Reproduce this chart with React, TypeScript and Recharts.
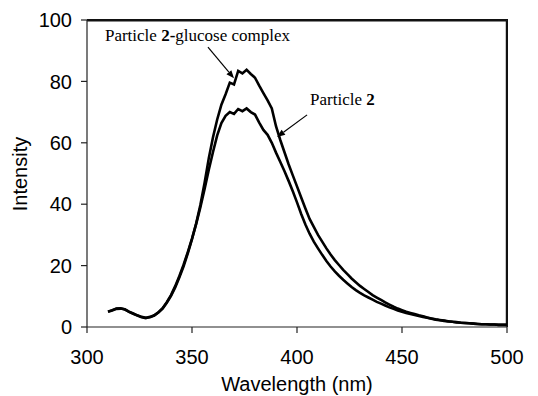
import React from "react";
import { LineChart, Line, XAxis, YAxis, ReferenceLine, Label } from "recharts";

// wavelength grid (nm)
const wavelengths = [
  310, 312, 314, 316, 318, 320, 322, 324, 326, 328,
  330, 332, 334, 336, 338, 340, 342, 344, 346, 348,
  350, 352, 354, 356, 358, 360, 362, 364, 366, 368,
  370, 372, 374, 376, 378, 380, 382, 384, 386, 388,
  390, 392, 394, 396, 398, 400, 402, 404, 406, 408,
  410, 412, 414, 416, 418, 420, 422, 424, 426, 428,
  430, 432, 434, 436, 438, 440, 442, 444, 446, 448,
  450, 452, 454, 456, 458, 460, 462, 464, 466, 468,
  470, 472, 474, 476, 478, 480, 482, 484, 486, 488,
  490, 492, 494, 496, 498, 500,
];

// Particle 2-glucose complex
const glucose = [
  5.0, 5.5, 6.0, 6.1, 5.7, 5.0, 4.4, 3.8, 3.3, 3.0,
  3.2, 3.7, 4.7, 6.0, 7.9, 10.1, 12.9, 16.2, 19.8, 24.0,
  28.6, 33.8, 39.8, 47.0, 55.0, 61.8, 67.6, 72.4, 75.8, 79.6,
  79.0, 83.4, 82.6, 83.8, 82.4, 81.2, 78.6, 76.2, 73.8, 71.2,
  65.4, 61.0, 57.0, 53.0, 49.4, 45.8, 42.2, 38.6, 35.2, 32.6,
  30.0, 27.8, 25.6, 23.6, 21.8, 20.2, 18.6, 17.2, 15.8, 14.6,
  13.4, 12.4, 11.4, 10.4, 9.6, 8.8, 8.0, 7.3, 6.6, 6.0,
  5.5, 5.0, 4.6, 4.2, 3.8, 3.5, 3.1, 2.8, 2.5, 2.3,
  2.1, 1.9, 1.7, 1.6, 1.4, 1.3, 1.2, 1.1, 1.0, 0.9,
  0.9, 0.8, 0.8, 0.7, 0.7, 0.7,
];

// Particle 2
const particle = [
  5.0, 5.4, 5.9, 6.0, 5.8, 4.9, 4.3, 3.7, 3.2, 2.9,
  3.3, 3.8, 4.8, 6.1, 8.1, 10.4, 13.3, 16.6, 20.3, 24.4,
  28.8, 33.6, 39.0, 45.0, 51.2, 57.0, 62.4, 66.4, 68.8, 70.0,
  69.4, 71.0, 70.3, 71.2, 70.0, 69.2, 66.6, 64.2, 62.6, 60.0,
  56.8, 53.8, 50.8, 47.6, 44.2, 40.6, 36.8, 33.4, 30.4, 27.8,
  25.6, 23.5, 21.5, 19.7, 18.1, 16.7, 15.4, 14.2, 13.0, 12.0,
  11.1, 10.3, 9.6, 8.9, 8.2, 7.6, 7.0, 6.4, 5.9, 5.4,
  5.0, 4.6, 4.2, 3.9, 3.6, 3.3, 3.0, 2.7, 2.4, 2.2,
  2.0, 1.8, 1.7, 1.5, 1.4, 1.3, 1.2, 1.1, 1.0, 0.9,
  0.9, 0.8, 0.8, 0.7, 0.7, 0.7,
];

const xTicks = [300, 350, 400, 450, 500];
const yTicks = [0, 20, 40, 60, 80, 100];

const data = wavelengths.map((w, i) => ({ w, glucose: glucose[i], particle: particle[i] }));

const WIDTH = 538;
const HEIGHT = 396;
const margin = { top: 20, right: 31, left: 0, bottom: 0 };
const Y_AXIS_W = 87;
const X_AXIS_H = 69;

const sans = "'Liberation Sans', Arial, sans-serif";
const serif = "'Liberation Serif', 'Times New Roman', serif";
const axisColor = "#222";

// arrow from segment start to end, with the caption placed relative to the start
const arrow = (caption: React.ReactNode, dx: number, dy: number) => (props: any) => {
  const { x1, y1, x2, y2 } = props;
  const a = Math.atan2(y2 - y1, x2 - x1);
  const len = 8;
  const half = 3.2;
  const bx = x2 - len * Math.cos(a);
  const by = y2 - len * Math.sin(a);
  const pts = [
    `${x2},${y2}`,
    `${bx - half * Math.sin(a)},${by + half * Math.cos(a)}`,
    `${bx + half * Math.sin(a)},${by - half * Math.cos(a)}`,
  ].join(" ");
  return (
    <g>
      <line x1={x1} y1={y1} x2={bx} y2={by} stroke="#000" strokeWidth={1.2} />
      <polygon points={pts} fill="#000" />
      <text x={x1 + dx} y={y1 + dy} fontFamily={serif} fontSize={17} fill="#000">
        {caption}
      </text>
    </g>
  );
};

// plain frame edge along a segment
const edge = (props: any) => (
  <line x1={props.x1} y1={props.y1} x2={props.x2} y2={props.y2} stroke="#111" strokeWidth={1.6} />
);

export default function App() {
  const left = margin.left + Y_AXIS_W;
  const right = WIDTH - margin.right;
  const top = margin.top;
  const bottom = HEIGHT - margin.bottom - X_AXIS_H;

  return (
    <div style={{ position: "absolute", left: 0, top: 0, width: WIDTH, height: HEIGHT, background: "#fff" }}>
      <LineChart width={WIDTH} height={HEIGHT} data={data} margin={margin}>
        <XAxis
          dataKey="w"
          type="number"
          domain={[300, 500]}
          ticks={xTicks}
          height={X_AXIS_H}
          tickSize={6}
          tickMargin={17}
          stroke={axisColor}
          strokeWidth={1.2}
          tick={{ fill: "#000", fontSize: 20, fontFamily: sans }}
        >
          <Label
            content={() => (
              <text x={(left + right) / 2} y={391} textAnchor="middle" fontFamily={sans} fontSize={20} fill="#000">
                Wavelength (nm)
              </text>
            )}
          />
        </XAxis>
        <YAxis
          type="number"
          domain={[0, 100]}
          ticks={yTicks}
          width={Y_AXIS_W}
          tickSize={6}
          tickMargin={9}
          stroke={axisColor}
          strokeWidth={1.2}
          tick={{ fill: "#000", fontSize: 20, fontFamily: sans }}
        >
          <Label
            content={() => (
              <text
                x={27}
                y={174}
                transform="rotate(-90 27 174)"
                textAnchor="middle"
                fontFamily={sans}
                fontSize={20}
                fill="#000"
              >
                Intensity
              </text>
            )}
          />
        </YAxis>
        {/* top and right edges, kept a hair inside the plot so nothing discards them */}
        <ReferenceLine segment={[{ x: 300, y: 99.8 }, { x: 499.9, y: 99.8 }]} shape={edge} />
        <ReferenceLine segment={[{ x: 499.8, y: 0.1 }, { x: 499.8, y: 99.9 }]} shape={edge} />
        <Line
          dataKey="glucose"
          type="linear"
          stroke="#000"
          strokeWidth={2.6}
          dot={false}
          isAnimationActive={false}
        />
        <Line
          dataKey="particle"
          type="linear"
          stroke="#000"
          strokeWidth={2.6}
          dot={false}
          isAnimationActive={false}
        />
        <ReferenceLine
          segment={[{ x: 357.6, y: 91.2 }, { x: 370.0, y: 81.0 }]}
          shape={arrow(
            <>
              <tspan>Particle </tspan>
              <tspan fontWeight="bold">2-</tspan>
              <tspan>glucose complex</tspan>
            </>,
            -103,
            -6
          )}
        />
        <ReferenceLine
          segment={[{ x: 404.8, y: 69.1 }, { x: 390.5, y: 61.9 }]}
          shape={arrow(
            <>
              <tspan>Particle </tspan>
              <tspan fontWeight="bold">2</tspan>
            </>,
            3,
            -10
          )}
        />
      </LineChart>
      {/* frame overlay as a fallback */}
      <div
        style={{
          position: "absolute",
          left,
          top: top - 1,
          width: right - left + 1,
          height: bottom - top + 1,
          borderTop: "1.5px solid #111",
          borderRight: "1.5px solid #111",
          boxSizing: "border-box",
          pointerEvents: "none",
        }}
      />
    </div>
  );
}
